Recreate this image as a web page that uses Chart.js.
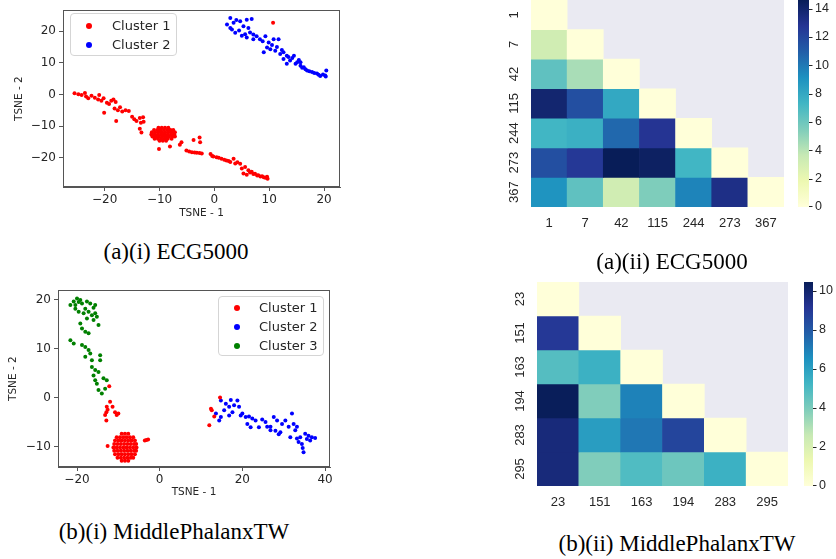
<!DOCTYPE html>
<html><head><meta charset="utf-8">
<script src="https://cdn.jsdelivr.net/npm/chart.js@4.4.1/dist/chart.umd.min.js"></script>
<style>
body{margin:0;width:836px;height:559px;background:#fff;position:relative;overflow:hidden;}
canvas{position:absolute;}
.cap{position:absolute;font-family:"Liberation Serif","Times New Roman",serif;font-size:23px;color:#000;transform:translateX(-50%);white-space:nowrap;line-height:24px;}
.legend{position:absolute;background:rgba(255,255,255,0.85);border:1px solid #d5d5d5;border-radius:4px;box-sizing:border-box;font-family:"DejaVu Sans",sans-serif;font-size:13px;color:#262626;}
.legend .row{position:absolute;height:16px;line-height:16px;white-space:nowrap;}
.legend .dot{position:absolute;width:6px;height:6px;border-radius:50%;top:5px;}
.legend .txt{position:absolute;top:0;}
</style>
</head><body>
<canvas id="ca" width="350" height="232" style="left:0;top:0"></canvas>
<canvas id="cb" width="350" height="222" style="left:0;top:280px"></canvas>
<canvas id="hc" width="356" height="235" style="left:480px;top:0"></canvas>
<canvas id="hd" width="356" height="240" style="left:480px;top:270px"></canvas>
<div id="lega" class="legend" style="left:70px;top:13px;width:107px;height:43px"></div>
<div id="legb" class="legend" style="left:218px;top:296px;width:106px;height:60px"></div>
<div class="cap" style="left:176px;top:240px">(a)(i) ECG5000</div>
<div class="cap" style="left:672px;top:250px">(a)(ii) ECG5000</div>
<div class="cap" style="left:174px;top:520px">(b)(i) MiddlePhalanxTW</div>
<div class="cap" style="left:677px;top:532px">(b)(ii) MiddlePhalanxTW</div>
<script>
// ---------- DATA ----------
const ecgCluster1Chain = [[-25.5,0.4],[-24.8,0.1],[-24.2,-0.2],[-23.6,0.5],[-23.4,-0.6],[-23.0,-1.2],[-22.4,-0.4],[-21.8,-1.0],[-21.2,-1.6],[-21.0,-0.2],[-20.6,-2.0],[-20.2,-1.2],[-20.1,-5.8],[-19.6,-2.6],[-19.2,-3.0],[-18.8,-2.0],[-18.4,-1.6],[-18.0,-2.4],[-18.2,-4.4],[-17.6,-5.0],[-17.2,-4.0],[-17.9,-8.4],[-16.8,-5.4],[-16.2,-5.0],[-15.6,-5.2],[-15.0,-7.0],[-14.6,-7.8],[-14.2,-8.4],[-13.6,-7.4],[-13.0,-7.2],[-13.4,-8.9],[-12.9,-8.6],[-13.6,-10.8],[-13.3,-12.0],
[-10.1,-17.2],[-8.1,-16.4],[-6.3,-15.9],[-6.0,-15.1],[-5.1,-17.7],[-4.6,-18.0],[-4.1,-18.2],[-3.6,-18.3],[-3.2,-18.4],[-2.7,-18.5],[-2.3,-18.6],[-3.8,-14.4],[-2.7,-13.6],[-2.6,-15.1],
[-0.7,-18.8],[-0.4,-19.4],[-0.2,-19.6],[0.4,-19.8],[0.8,-20.0],[1.3,-20.3],[1.8,-20.6],[2.2,-20.8],[2.6,-21.0],[2.9,-21.3],[3.5,-20.3],[3.8,-21.8],[4.2,-21.4],[4.7,-21.9],[5.0,-23.4],[5.6,-22.9],[5.3,-24.9],[5.9,-25.3],[6.2,-23.9],[6.5,-24.6],[6.8,-24.4],[7.1,-25.1],[7.4,-25.0],[7.8,-25.6],[8.0,-25.5],[8.4,-25.9],[8.7,-25.8],[9.0,-26.1],[9.3,-26.3],[9.6,-26.0],[9.7,-26.6],[10.7,22.6]];
const ecgCluster1Core = [[-10.2,-10.5],[-9.6,-10.5],[-9.0,-10.5],[-8.4,-10.5],
[-11.0,-11.2],[-10.4,-11.2],[-9.8,-11.2],[-9.2,-11.2],[-8.6,-11.2],[-8.0,-11.2],[-7.5,-11.2],
[-11.4,-11.9],[-10.8,-11.9],[-10.2,-11.9],[-9.6,-11.9],[-9.0,-11.9],[-8.4,-11.9],[-7.8,-11.9],[-7.2,-11.9],
[-11.5,-12.6],[-10.9,-12.6],[-10.3,-12.6],[-9.7,-12.6],[-9.1,-12.6],[-8.5,-12.6],[-7.9,-12.6],[-7.3,-12.6],
[-11.3,-13.3],[-10.7,-13.3],[-10.1,-13.3],[-9.5,-13.3],[-8.9,-13.3],[-8.3,-13.3],[-7.7,-13.3],[-7.2,-13.3],
[-10.9,-14.0],[-10.3,-14.0],[-9.7,-14.0],[-9.1,-14.0],[-8.5,-14.0],[-7.8,-14.0],
[-10.0,-14.6],[-9.4,-14.6],[-8.8,-14.6]];
const ecgCluster2 = [[2.3,22.1],[2.9,24.1],[3.5,22.6],[3.2,20.5],[3.8,19.5],[2.9,21.0],[4.0,23.5],[4.7,23.1],[5.3,21.5],[5.9,23.6],[6.2,21.0],[5.6,19.0],[6.8,23.8],[4.5,20.2],[5.0,18.5],[5.9,18.0],[6.5,19.6],[7.1,18.9],[7.1,17.4],[7.7,18.4],[8.3,17.4],[8.8,16.8],[9.3,18.4],[9.6,14.8],[9.9,16.4],[9.0,13.3],[10.2,14.3],[10.5,15.6],[10.8,17.4],[11.1,13.8],[11.4,15.0],[11.7,17.4],[12.0,12.8],[12.3,14.0],[12.6,13.3],[12.6,11.2],[13.2,12.2],[13.2,9.7],[13.5,11.8],[13.8,10.7],[14.2,11.5],[14.5,12.2],[14.8,9.7],[15.1,10.2],[15.4,10.9],[15.7,9.1],[15.7,10.2],[16.0,8.4],[16.3,8.6],[16.6,8.0],[16.9,7.6],[17.3,7.3],[17.8,7.1],[18.2,6.8],[18.7,6.6],[19.0,6.2],[19.3,5.8],[19.8,6.3],[20.2,6.0],[20.4,7.6],[20.3,5.7]];

const mptCluster1Chain = [[-12.2,2.4],[-12.0,-0.8],[-12.8,-1.8],[-11.4,-1.8],[-12.6,-2.4],[-12.9,-2.9],[-10.8,-2.9],[-13.2,-3.5],[-10.4,-3.5],[-10.0,-3.2],[-12.9,-4.6],[-12.6,-9.8],[-3.6,-8.7],[-3.2,-8.6],[-2.8,-8.5],[12.0,-5.6],[12.4,-2.2],[12.6,-2.5],[14.6,0.1],[13.2,-3.8]];
const mptCluster1Core = [[-9.2,-7.3],[-8.4,-7.3],[-7.6,-7.3],
[-10.4,-8.0],[-9.6,-8.0],[-8.8,-8.0],[-8.0,-8.0],[-7.2,-8.0],[-6.4,-8.0],
[-10.8,-8.7],[-10.0,-8.7],[-9.2,-8.7],[-8.4,-8.7],[-7.6,-8.7],[-6.8,-8.7],[-6.0,-8.7],
[-11.0,-9.4],[-10.2,-9.4],[-9.4,-9.4],[-8.6,-9.4],[-7.8,-9.4],[-7.0,-9.4],[-6.2,-9.4],[-5.7,-9.4],
[-11.2,-10.1],[-10.4,-10.1],[-9.6,-10.1],[-8.8,-10.1],[-8.0,-10.1],[-7.2,-10.1],[-6.4,-10.1],[-5.6,-10.1],
[-11.0,-10.8],[-10.2,-10.8],[-9.4,-10.8],[-8.6,-10.8],[-7.8,-10.8],[-7.0,-10.8],[-6.2,-10.8],[-5.7,-10.8],
[-10.8,-11.5],[-10.0,-11.5],[-9.2,-11.5],[-8.4,-11.5],[-7.6,-11.5],[-6.8,-11.5],[-6.0,-11.5],
[-10.2,-12.2],[-9.4,-12.2],[-8.6,-12.2],[-7.8,-12.2],[-7.0,-12.2],[-6.4,-12.2],
[-9.2,-12.8],[-8.4,-12.8],[-7.6,-12.8]];
const mptCluster2 = [[14.8,-0.5],[16.0,-1.2],[16.8,-1.8],[18.0,-1.5],[18.8,-0.5],[19.2,-1.8],[15.6,-2.5],[17.6,-2.9],[14.8,-3.9],[14.4,-4.6],[13.6,-3.2],[16.8,-3.6],[20.0,-3.2],[20.8,-3.9],[21.6,-3.8],[22.4,-4.2],[21.2,-5.3],[22.0,-6.0],[23.2,-4.6],[24.8,-4.4],[25.6,-4.9],[26.0,-5.9],[26.8,-6.6],[27.6,-3.9],[28.4,-4.6],[28.0,-6.7],[28.8,-7.4],[29.6,-5.3],[30.4,-4.6],[31.2,-5.9],[32.0,-3.2],[32.4,-5.3],[32.8,-6.6],[31.6,-8.0],[33.2,-8.3],[33.6,-9.0],[34.0,-8.0],[34.4,-9.4],[34.8,-11.1],[35.2,-7.3],[36.0,-7.7],[36.8,-8.0],[37.6,-8.2],[36.4,-8.7],[33.2,-5.9],[26.8,-5.9],[24.0,-6.0],[17.2,-0.4],[19.6,-3.6],[29.2,-7.0],[34.6,-10.2],[35.6,-8.4]];
const mptCluster3 = [[-21.6,19.0],[-20.8,19.7],[-20.0,20.3],[-19.2,20.0],[-20.4,18.2],[-18.8,19.3],[-17.6,19.7],[-16.8,19.3],[-15.6,19.0],[-18.0,18.2],[-19.6,17.6],[-18.4,17.3],[-17.2,17.6],[-16.4,16.9],[-15.6,17.3],[-15.2,16.6],[-17.6,16.2],[-16.0,15.9],[-14.8,14.9],[-19.2,15.2],[-18.8,14.2],[-18.0,13.5],[-17.2,13.2],[-21.6,11.8],[-20.8,11.1],[-18.8,10.8],[-18.0,10.4],[-17.2,9.8],[-16.8,9.1],[-18.0,8.4],[-14.4,8.7],[-14.4,7.7],[-16.4,6.3],[-15.6,5.7],[-14.8,5.3],[-16.0,4.6],[-15.6,3.6],[-15.2,2.9],[-13.6,4.0],[-12.8,3.6],[-14.8,1.6],[-14.0,0.9],[-13.2,1.9],[-16.4,7.7],[-20.4,19.0],[-19.6,19.6],[-16.0,18.4]];

const ecgLabels = ['1','7','42','115','244','273','367'];
const ecgMatrix = [
  [0],
  [3.2,0],
  [6.4,4.4,0],
  [13.9,11.6,8.0,0],
  [7.3,7.6,10.6,12.8,0],
  [11.6,12.6,14.6,14.3,7.3,0],
  [9.0,6.4,3.2,5.5,9.6,13.2,0]
];
const ecgMax = 14.6;
const ecgBarTicks = [0,2,4,6,8,10,12,14];

const mptLabels = ['23','151','163','194','283','295'];
const mptMatrix = [
  [0],
  [9.0,0],
  [4.8,5.4,0],
  [10.4,3.9,6.9,0],
  [9.7,6.1,7.2,8.6,0],
  [9.7,3.9,4.9,4.3,5.4,0]
];
const mptMax = 10.44;
const mptBarTicks = [0,2,4,6,8,10];

// ---------- HELPERS ----------
const YLGNBU = ['#ffffd9','#edf8b1','#c7e9b4','#7fcdbb','#41b6c4','#1d91c0','#225ea8','#253494','#081d58'];
function hex(h){return [parseInt(h.slice(1,3),16),parseInt(h.slice(3,5),16),parseInt(h.slice(5,7),16)];}
function cmap(t){
  t=Math.max(0,Math.min(1,t)); const s=t*8; const i=Math.min(7,Math.floor(s)); const f=s-i;
  const a=hex(YLGNBU[i]), b=hex(YLGNBU[i+1]);
  return 'rgb('+a.map((v,k)=>Math.round(v+(b[k]-v)*f)).join(',')+')';
}
const fmt = v => String(v).replace('-', '\u2212');
const AX = '#555';
const TXT = '#262626';

const framePlugin = {id:'frame', afterDatasetsDraw(chart){
  const {ctx, chartArea:a} = chart; ctx.save(); ctx.strokeStyle=AX; ctx.lineWidth=1;
  ctx.strokeRect(Math.round(a.left)+0.5, Math.round(a.top)+0.5, Math.round(a.right-a.left)-1, Math.round(a.bottom-a.top)-1);
  ctx.restore();
}};

function makeScatter(id, sets, g){
  return new Chart(document.getElementById(id), {
    type:'scatter',
    data:{datasets: sets.map(s=>({label:s.label, data:s.points.map(p=>({x:p[0],y:p[1]})), backgroundColor:s.color, borderWidth:0, pointRadius:2, pointHoverRadius:2}))},
    options:{
      responsive:false, animation:false, events:[],
      layout:{padding:g.pad},
      plugins:{legend:{display:false}, tooltip:{enabled:false}},
      scales:{
        x:{type:'linear', min:g.xMin, max:g.xMax, afterFit:s=>{s.height=g.xH;},
           ticks:{stepSize:g.xStep, includeBounds:false, font:{family:'DejaVu Sans',size:12}, color:TXT, padding:2, maxRotation:0, callback:fmt},
           grid:{drawOnChartArea:false, drawTicks:true, tickLength:4, color:AX}, border:{color:AX},
           title:{display:true, text:'TSNE - 1', font:{family:'DejaVu Sans',size:10.5}, color:TXT, padding:{top:0,bottom:g.xTitlePad}}},
        y:{type:'linear', min:g.yMin, max:g.yMax, afterFit:s=>{s.width=g.yW;},
           ticks:{stepSize:g.yStep, includeBounds:false, font:{family:'DejaVu Sans',size:12}, color:TXT, padding:3, callback:fmt},
           grid:{drawOnChartArea:false, drawTicks:true, tickLength:4, color:AX}, border:{color:AX},
           title:{display:true, text:'TSNE - 2', font:{family:'DejaVu Sans',size:10.5}, color:TXT, padding:{top:g.yTitlePad,bottom:0}}}
      }
    },
    plugins:[framePlugin]
  });
}

function fillLegend(divId, chart, rows){
  const div=document.getElementById(divId);
  chart.data.datasets.forEach((d,i)=>{
    const r=document.createElement('div'); r.className='row';
    r.style.top=rows.y[i]+'px'; r.style.left='0px';
    r.innerHTML='<span class="dot" style="left:'+rows.dotX+'px;background:'+d.backgroundColor+'"></span><span class="txt" style="left:'+rows.txtX+'px">'+d.label+'</span>';
    div.appendChild(r);
  });
}

function makeHeatmap(id, labels, matrix, vmax, barTicks, g){
  const n = labels.length;
  const datasets = labels.map((lab, r)=>({
    label: lab,
    data: labels.map((_, c)=> c<=r ? [r, r+1] : null),
    backgroundColor: labels.map((_, c)=> c<=r ? cmap(matrix[r][c]/vmax) : 'rgba(0,0,0,0)'),
    borderWidth:0, grouped:false, barPercentage:1, categoryPercentage:1
  }));
  const hmPlugin = {id:'hm',
    beforeDatasetsDraw(chart){
      const {ctx, chartArea:a}=chart; ctx.save(); ctx.fillStyle='#eaeaf2';
      ctx.fillRect(a.left, a.top, a.right-a.left, a.bottom-a.top); ctx.restore();
    },
    afterDraw(chart){
      const {ctx, chartArea:a, scales}=chart; ctx.save();
      ctx.fillStyle=TXT; ctx.font='13px "Liberation Sans", Arial, sans-serif';
      ctx.textAlign='center'; ctx.textBaseline='middle';
      labels.forEach((lab, r)=>{
        const y = scales.y.getPixelForValue(r+0.5);
        ctx.save(); ctx.translate(g.yLabelX, y); ctx.rotate(-Math.PI/2); ctx.fillText(lab, 0, 0); ctx.restore();
      });
      // colorbar
      const grad = ctx.createLinearGradient(0, a.bottom, 0, a.top);
      YLGNBU.forEach((c,i)=>grad.addColorStop(i/8, c));
      ctx.fillStyle=grad; ctx.fillRect(g.cbL, a.top, g.cbR-g.cbL, a.bottom-a.top);
      ctx.strokeStyle=TXT; ctx.lineWidth=1; ctx.fillStyle=TXT; ctx.textAlign='left';
      ctx.font='12.5px "Liberation Sans", Arial, sans-serif';
      barTicks.forEach(t=>{
        const y = a.bottom - (t/vmax)*(a.bottom-a.top);
        const yy = Math.min(a.bottom-0.5, Math.round(y)+0.5);
        ctx.beginPath(); ctx.moveTo(g.cbR, yy); ctx.lineTo(g.cbR+3.5, yy); ctx.stroke();
        ctx.fillText(String(t), g.cbR+6, y);
      });
      ctx.restore();
    }
  };
  return new Chart(document.getElementById(id), {
    type:'bar',
    data:{labels, datasets},
    options:{
      responsive:false, animation:false, events:[],
      layout:{padding:g.pad},
      plugins:{legend:{display:false}, tooltip:{enabled:false}},
      scales:{
        x:{type:'category', afterFit:s=>{s.height=g.xH;}, grid:{display:false}, border:{display:false},
           ticks:{font:{family:'Liberation Sans',size:13}, color:TXT, padding:g.xPad, maxRotation:0}},
        y:{type:'linear', min:0, max:n, reverse:true, display:false}
      }
    },
    plugins:[hmPlugin]
  });
}

// ---------- CHARTS ----------
const ca = makeScatter('ca', [
  {label:'Cluster 1', color:'#ff0000', points: ecgCluster1Chain.concat(ecgCluster1Core)},
  {label:'Cluster 2', color:'#0000ff', points: ecgCluster2}
], {pad:{left:0,top:7,right:10,bottom:0}, xMin:-27.6, xMax:22.9, yMin:-29.2, yMax:26.6, xStep:10, yStep:10, xH:45, yW:63, xTitlePad:12, yTitlePad:13});
fillLegend('lega', ca, {y:[4,23], dotX:15, txtX:41});

const cb = makeScatter('cb', [
  {label:'Cluster 1', color:'#ff0000', points: mptCluster1Chain.concat(mptCluster1Core)},
  {label:'Cluster 2', color:'#0000ff', points: mptCluster2},
  {label:'Cluster 3', color:'#008000', points: mptCluster3}
], {pad:{left:0,top:10,right:20,bottom:0}, xMin:-24.6, xMax:41.2, yMin:-14.1, yMax:22, xStep:20, yStep:10, xH:35, yW:58, xTitlePad:3, yTitlePad:7});
fillLegend('legb', cb, {y:[3,22,41], dotX:15, txtX:40});

makeHeatmap('hc', ecgLabels, ecgMatrix, ecgMax, ecgBarTicks,
  {pad:{left:51,top:0,right:52,bottom:0}, xH:28, xPad:1, yLabelX:34, cbL:318, cbR:329});
makeHeatmap('hd', mptLabels, mptMatrix, mptMax, mptBarTicks,
  {pad:{left:57,top:12,right:48,bottom:0}, xH:24, xPad:1, yLabelX:40, cbL:324, cbR:333});
</script>
</body></html>
